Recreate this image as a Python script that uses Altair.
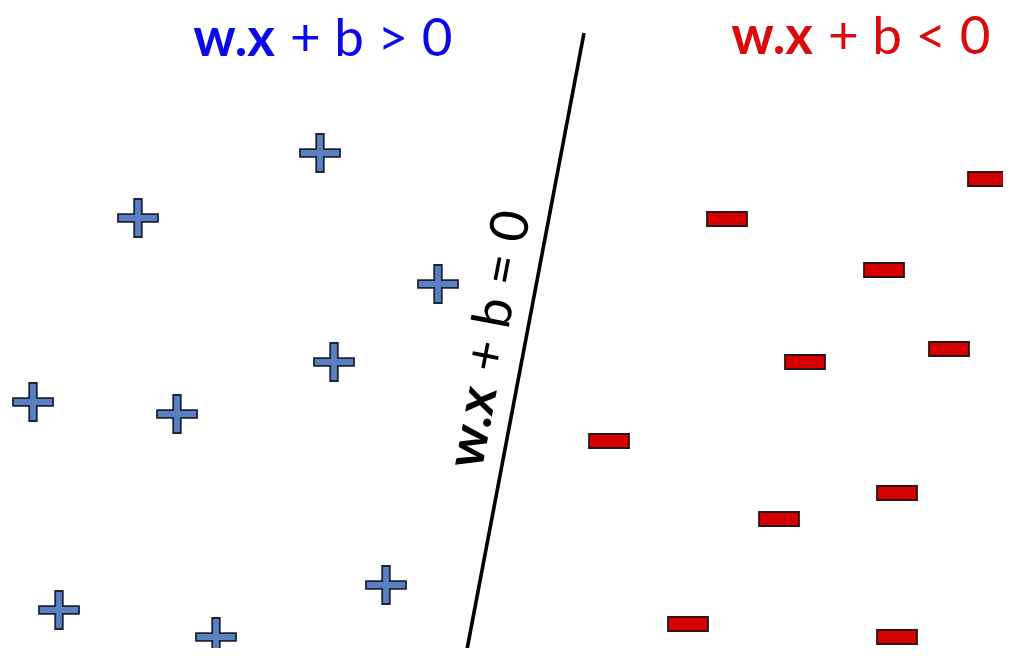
import altair as alt
import pandas as pd

# Positive class points (image pixel coordinates)
plus_x = [320, 138, 438, 334, 33, 177, 386, 59, 216]
plus_y = [153, 218, 284, 362, 402, 414, 585, 610, 637]

# Negative class points
minus_x = [988, 727, 884, 949, 805, 609, 897, 779, 688, 897]
minus_y = [179, 219, 270, 349, 362, 441, 493, 519, 624, 637]

# Decision boundary end points
line_x = [584, 465]
line_y = [33, 660]

# Text pieces
label_text = ["w.x", "+ b > 0", "w.x", "+ b < 0", "w.x", "+ b = 0"]
label_x = [275, 290, 813, 828, 497, 500]
label_y = [56, 56, 54, 54, 390, 374]

W, H = 995, 640
xs = alt.Scale(domain=[8, 8 + W], nice=False, zero=False)
ys = alt.Scale(domain=[8, 8 + H], nice=False, zero=False, reverse=True)

plus_df = pd.DataFrame({"x": plus_x, "y": plus_y})
minus_df = pd.DataFrame({"x": minus_x, "y": minus_y})
line_df = pd.DataFrame({"x": line_x, "y": line_y, "o": [0, 1]})
lab_df = pd.DataFrame({"t": label_text, "x": label_x, "y": label_y, "i": list(range(6))})

PLUS = "M-0.19,-0.95H0.19V-0.19H1V0.19H0.19V0.95H-0.19V0.19H-1V-0.19H-0.19Z"
MINUS = "M-1,-0.35H1V0.35H-1Z"

enc_x = alt.X("x:Q", scale=xs, axis=None)
enc_y = alt.Y("y:Q", scale=ys, axis=None)

line = alt.Chart(line_df).mark_line(color="black", strokeWidth=3.6).encode(
    x=enc_x, y=enc_y, order="o:Q"
)

plus = alt.Chart(plus_df).mark_point(
    shape=PLUS, size=1600, filled=True, fill="#5B80C0", stroke="#1A243A",
    strokeWidth=1.8, opacity=1
).encode(x=enc_x, y=enc_y)

minus = alt.Chart(minus_df).mark_point(
    shape=MINUS, size=1600, filled=True, fill="#D60000", stroke="#2A1616",
    strokeWidth=1.8, opacity=1
).encode(x=enc_x, y=enc_y)

def txt(i, color, bold, align, angle=0):
    return alt.Chart(lab_df).transform_filter(alt.datum.i == i).mark_text(
        font="Lato", fontSize=53, fontWeight="bold" if bold else "normal",
        color=color, align=align, baseline="alphabetic", angle=angle
    ).encode(x=enc_x, y=enc_y, text="t:N")

BLUE = "#0A0AE8"
RED = "#DA0A0A"
texts = [
    txt(0, BLUE, True, "right"),
    txt(1, BLUE, False, "left"),
    txt(2, RED, True, "right"),
    txt(3, RED, False, "left"),
    txt(4, "black", True, "right", 280.8),
    txt(5, "black", False, "left", 280.8),
]

chart = alt.layer(line, plus, minus, *texts).properties(
    width=W, height=H, padding=0, autosize=alt.AutoSizeParams(type="none"),
    background="white"
).configure_view(stroke=None)

chart.save("out.html", embed_options={"renderer": "svg", "actions": False})
